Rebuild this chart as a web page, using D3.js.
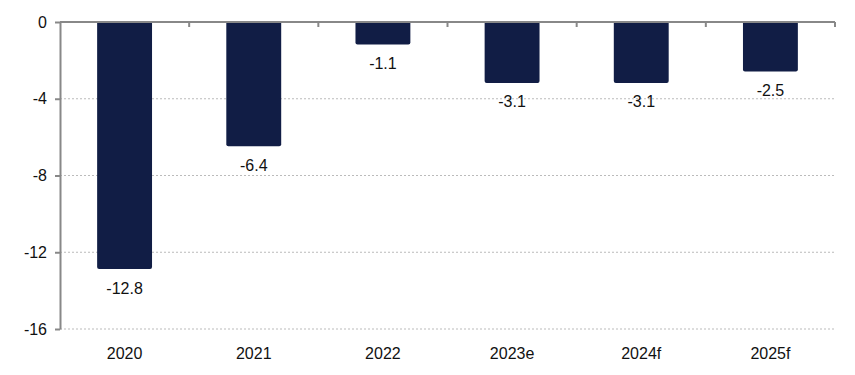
<!DOCTYPE html>
<html>
<head>
<meta charset="utf-8">
<script src="https://cdn.jsdelivr.net/npm/d3@7"></script>
<style>
  body { margin: 0; background: #fff; }
  svg text { font-family: "Liberation Sans", Arial, sans-serif; }
</style>
</head>
<body>
<svg id="chart"></svg>
<script>
// data
const years = ["2020", "2021", "2022", "2023e", "2024f", "2025f"];
const values = [-12.8, -6.4, -1.1, -3.1, -3.1, -2.5];
const yTicks = [0, -4, -8, -12, -16];

const width = 855, height = 375;
const margin = { top: 22, right: 20, bottom: 46, left: 60 };
const innerW = width - margin.left - margin.right;
const innerH = height - margin.top - margin.bottom;

const svg = d3.select("#chart")
    .attr("width", width)
    .attr("height", height);

const chart = svg.append("g")
    .attr("transform", `translate(${margin.left},${margin.top})`);

const x = d3.scaleBand().domain(years).range([0, innerW]).paddingInner(0.575).paddingOuter(0.2875);
const y = d3.scaleLinear().domain([0, -16]).range([0, innerH]);

// dotted gridlines
chart.selectAll(".grid")
    .data(yTicks.filter(d => d !== 0))
    .join("line")
    .attr("x1", 0).attr("x2", innerW)
    .attr("y1", d => y(d)).attr("y2", d => y(d))
    .attr("stroke", "#bbb")
    .attr("stroke-width", 1)
    .attr("stroke-dasharray", "2,2");

// bars, rounded only at the bottom end
const r = 2;
chart.selectAll(".bar")
    .data(values)
    .join("path")
    .attr("fill", "#111d45")
    .attr("d", (d, i) => {
        const x0 = x(years[i]), w = x.bandwidth();
        const y0 = y(0), y1 = y(d) + 1.5;
        return `M${x0},${y0}H${x0 + w}V${y1 - r}Q${x0 + w},${y1} ${x0 + w - r},${y1}H${x0 + r}Q${x0},${y1} ${x0},${y1 - r}Z`;
    });

// value labels below bars
chart.selectAll(".lbl")
    .data(values)
    .join("text")
    .attr("x", (d, i) => x(years[i]) + x.bandwidth() / 2)
    .attr("y", d => y(d) + 26)
    .attr("text-anchor", "middle")
    .attr("font-size", 16)
    .attr("fill", "#111")
    .text(d => d.toFixed(1));

// y axis
const yAxis = d3.axisLeft(y).tickValues(yTicks).tickFormat(d => String(d))
    .tickSize(5).tickSizeOuter(0).tickPadding(8);
const yAxisG = chart.append("g").call(yAxis);
yAxisG.select(".domain").attr("stroke", "#888").attr("stroke-width", 2);
yAxisG.selectAll(".tick line").attr("stroke", "#888").attr("stroke-width", 2);
yAxisG.selectAll("text").attr("font-size", 16).attr("fill", "#111");

// zero line with category separator ticks pointing down
const xSep = d3.scaleLinear().domain([0, years.length]).range([0, innerW]);
chart.append("line")
    .attr("x1", 0).attr("x2", innerW)
    .attr("y1", y(0)).attr("y2", y(0))
    .attr("stroke", "#888").attr("stroke-width", 2);
chart.selectAll(".sep")
    .data(d3.range(1, years.length + 1))
    .join("line")
    .attr("x1", d => xSep(d)).attr("x2", d => xSep(d))
    .attr("y1", y(0)).attr("y2", y(0) + 5)
    .attr("stroke", "#888").attr("stroke-width", 2);

// category labels
chart.selectAll(".cat")
    .data(years)
    .join("text")
    .attr("x", d => x(d) + x.bandwidth() / 2)
    .attr("y", innerH + 30)
    .attr("text-anchor", "middle")
    .attr("font-size", 16)
    .attr("fill", "#111")
    .text(d => d);
</script>
</body>
</html>
